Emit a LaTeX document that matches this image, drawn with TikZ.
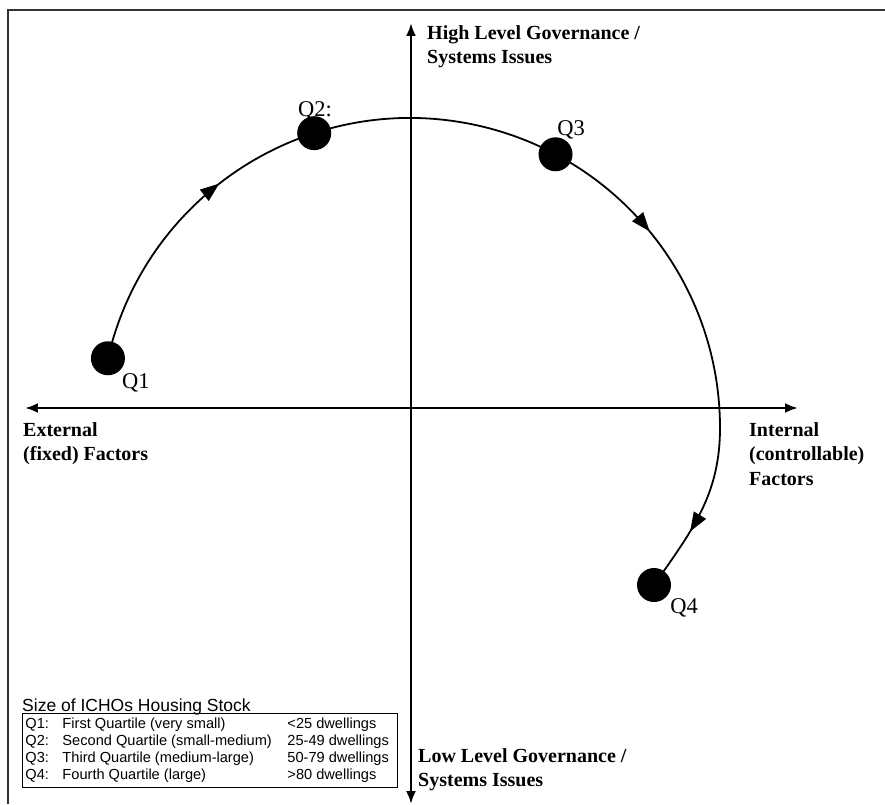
\documentclass[tikz,border=0pt]{standalone}
\usepackage{fontspec}
\setmainfont{Liberation Serif}
\newfontfamily\legendfont{Liberation Sans}
\usetikzlibrary{arrows.meta,decorations.markings}

\begin{document}
\begin{tikzpicture}[x=1pt,y=1pt,
  frame/.style={line width=1.2pt,black!80},
  axis/.style={line width=2.4pt,{Latex[length=13pt,width=10pt]}-{Latex[length=13pt,width=10pt]}},
  axislabel/.style={anchor=north west,inner sep=0pt,align=left,font=\fontsize{20}{24.5}\selectfont\bfseries},
  qlabel/.style={anchor=base,inner sep=0pt,font=\fontsize{22.5}{26}\selectfont},
  dot/.style={circle,fill=black,inner sep=0pt,minimum size=34pt},
  curve/.style={line width=1.8pt,postaction={decorate},decoration={markings,
    mark=at position 0.196 with {\arrow{Triangle[length=19pt,width=14pt]}},
    mark=at position 0.641 with {\arrow{Triangle[length=19pt,width=14pt]}},
    mark=at position 0.94 with {\arrow{Triangle[length=19pt,width=14pt]}}}}]
\useasboundingbox (-411,-396) rectangle (474,408);
\draw[frame] (-403,-396) -- (-403,398) -- (474,398);

% axes
\coordinate (west) at (-386,0); \coordinate (east) at (387,0);
\coordinate (north) at (0,385); \coordinate (south) at (0,-396);
\draw[axis] (west) -- (east);
\draw[axis] (south) -- (north);
\node[axislabel] (high) at (16,383) {High Level Governance /\\Systems Issues};
\node[axislabel] (low) at (7,-340) {Low Level Governance /\\Systems Issues};
\node[axislabel] (ext) at (-388,-14) {External\\(fixed) Factors};
\node[axislabel] (int) at (338,-14) {Internal\\(controllable)\\Factors};

% quartiles
\node[qlabel] (l1) at (-275,20) {Q1};
\node[qlabel] (l2) at (-96,292) {Q2:};
\node[qlabel] (l3) at (160,273) {Q3};
\node[qlabel] (l4) at (273,-205) {Q4};
\coordinate (ctr) at (-1,-20);
\path (ctr) ++(167:310pt) node[dot] (q1) {};
\path (ctr) ++(108:310pt) node[dot] (q2) {};
\path (ctr) ++(62:310pt) node[dot] (q3) {};
\node[dot] (q4) at (243,-177) {};
\draw[curve] (q1.center) arc[start angle=167,end angle=0,radius=310pt] to[out=-90,in=55] (q4.center);

% legend
\node[anchor=north west,inner sep=0pt,font=\legendfont\fontsize{17.5}{20}\selectfont] (legtitle) at (-389,-291) {Size of ICHOs Housing Stock};
\node[anchor=north west,draw,line width=1pt,inner sep=3pt,font=\legendfont\fontsize{14.6}{17}\selectfont] (legend) at (-389,-305) {%
\begin{tabular}{@{}p{37pt}@{}p{225pt}@{}p{107pt}@{}}
Q1: & First Quartile (very small) & <25 dwellings\\
Q2: & Second Quartile (small-medium) & 25-49 dwellings\\
Q3: & Third Quartile (medium-large) & 50-79 dwellings\\
Q4: & Fourth Quartile (large) & >80 dwellings
\end{tabular}};
\end{tikzpicture}
\end{document}
